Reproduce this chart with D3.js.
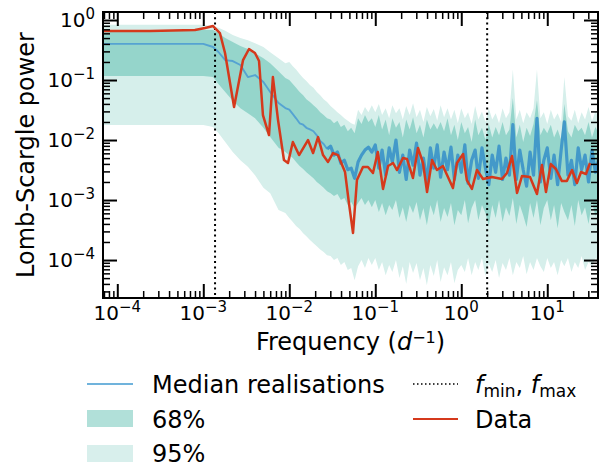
<!DOCTYPE html>
<html>
<head>
<meta charset="utf-8">
<script src="https://cdn.jsdelivr.net/npm/d3@7"></script>
<style>
  body { margin: 0; background: #fff; }
  text { font-family: "DejaVu Sans", sans-serif; fill: #000; }
</style>
</head>
<body>
<svg id="chart" width="611" height="467"></svg>
<script>
// frequency grid of the simulated periodograms (d^-1)
const modelFreq = [6.8e-5, 1.0e-3, 1.3e-3, 1.5e-3, 1.8e-3, 2.2e-3, 2.7e-3, 3.3e-3, 4.0e-3, 5.0e-3, 6.0e-3, 7.5e-3, 9.0e-3,
  0.0100, 0.0110, 0.0120, 0.0132, 0.0145, 0.0158, 0.0174, 0.0191, 0.0209, 0.0229, 0.0251, 0.0275, 0.0302, 0.0331, 0.0363, 0.0398, 0.0437, 0.0479, 0.0525, 0.0575, 0.0631, 0.0692, 0.0759, 0.0832, 0.0912,
  0.100, 0.110, 0.120, 0.132, 0.145, 0.158, 0.174, 0.191, 0.209, 0.229, 0.251, 0.275, 0.302, 0.331, 0.363, 0.398, 0.437, 0.479, 0.525, 0.575, 0.631, 0.692, 0.759, 0.832, 0.912,
  1.00, 1.10, 1.20, 1.32, 1.45, 1.58, 1.74, 1.91, 2.09, 2.29, 2.51, 2.75, 3.02, 3.31, 3.63, 3.98, 4.37, 4.79, 5.25, 5.75, 6.31, 6.92, 7.59, 8.32, 9.12,
  10.0, 11.0, 12.0, 13.2, 14.5, 15.8, 17.4, 19.1, 20.9, 22.9, 25.1, 27.5, 30.2, 33.1, 36.3, 39.8];

// median of the realisations
const median = [0.40, 0.40, 0.355, 0.293, 0.215, 0.207, 0.178, 0.112, 0.121, 0.0926, 0.0631, 0.0414, 0.0341,
  3.2e-2, 2.7e-2, 2.3e-2, 1.9e-2, 1.8e-2, 1.6e-2, 1.5e-2, 1.4e-2, 1.2e-2, 9.6e-3, 8.6e-3, 7.1e-3, 7.9e-3, 5.6e-3, 6.3e-3, 4.1e-3, 4.6e-3, 3.2e-3, 3.4e-3, 2.3e-3, 4.3e-3, 5.6e-3, 6.8e-3, 7.6e-3, 6.3e-3,
  8.3e-3, 3.4e-3, 6.8e-3, 2.6e-3, 7.4e-3, 4.3e-3, 1.0e-2, 2.9e-3, 5.6e-3, 2.2e-3, 6.8e-3, 3.8e-3, 8.9e-3, 2.6e-3, 5.0e-3, 2.0e-3, 7.4e-3, 3.4e-3, 8.3e-3, 2.4e-3, 6.3e-3, 3.2e-3, 7.6e-3, 2.2e-3, 5.6e-3,
  2.9e-3, 8.3e-3, 1.9e-3, 4.6e-3, 6.8e-3, 2.3e-3, 7.4e-3, 3.4e-3, 1.8e-3, 5.6e-3, 2.9e-3, 7.9e-3, 2.2e-3, 5.0e-3, 2.6e-3, 1.8e-2, 2.2e-3, 6.8e-3, 3.2e-3, 1.7e-3, 6.3e-3, 2.6e-3, 2.3e-2, 2.0e-3, 4.6e-3,
  7.4e-3, 2.3e-3, 5.6e-3, 1.8e-3, 6.8e-3, 2.0e-2, 2.6e-3, 4.6e-3, 1.8e-3, 7.4e-3, 3.2e-3, 5.6e-3, 2.0e-3, 6.8e-3, 2.9e-3, 5.0e-3];

// 68% interval
const hi68 = [0.68, 0.68, 0.68, 0.61, 0.50, 0.43, 0.37, 0.33, 0.28, 0.23, 0.19, 0.14, 0.108,
  1.0e-1, 8.6e-2, 7.4e-2, 6.3e-2, 5.6e-2, 4.8e-2, 4.3e-2, 3.8e-2, 3.4e-2, 2.9e-2, 2.6e-2, 2.3e-2, 2.2e-2, 1.9e-2, 2.1e-2, 1.65e-2, 1.8e-2, 1.4e-2, 1.6e-2, 1.3e-2, 2.3e-2, 1.85e-2, 2.6e-2, 2.0e-2, 2.3e-2,
  1.65e-2, 2.6e-2, 1.5e-2, 2.2e-2, 1.2e-2, 2.3e-2, 1.6e-2, 2.0e-2, 1.1e-2, 2.2e-2, 1.5e-2, 2.4e-2, 1.3e-2, 1.8e-2, 1.1e-2, 2.2e-2, 1.5e-2, 1.9e-2, 1.5e-2, 2.0e-2, 1.4e-2, 2.3e-2, 1.2e-2, 1.8e-2, 1.0e-2,
  2.0e-2, 1.3e-2, 1.65e-2, 9.3e-3, 2.2e-2, 1.2e-2, 1.6e-2, 1.0e-2, 1.85e-2, 1.1e-2, 1.65e-2, 1.2e-2, 2.0e-2, 1.2e-2, 1.5e-2, 5.0e-2, 1.1e-2, 1.8e-2, 9.3e-3, 1.6e-2, 1.17e-2, 1.85e-2, 4.6e-2, 1.2e-2, 1.6e-2,
  1.3e-2, 1.8e-2, 1.1e-2, 1.5e-2, 1.0e-2, 4.0e-2, 1.4e-2, 1.1e-2, 1.8e-2, 1.4e-2, 1.6e-2, 1.2e-2, 2.0e-2, 1.1e-2, 1.65e-2, 1.26e-2];
const lo68 = [0.117, 0.117, 0.112, 0.086, 0.063, 0.045, 0.034, 0.028, 0.023, 0.016, 0.0112, 0.0074, 0.0063,
  5.6e-3, 5.0e-3, 4.3e-3, 3.7e-3, 3.3e-3, 2.9e-3, 2.6e-3, 2.3e-3, 2.0e-3, 1.8e-3, 1.6e-3, 1.4e-3, 1.3e-3, 1.17e-3, 1.26e-3, 1.0e-3, 1.08e-3, 8.3e-4, 9.3e-4, 7.4e-4, 8.9e-4, 1.08e-3, 8.3e-4, 1.0e-3, 7.6e-4,
  1.0e-3, 6.3e-4, 8.9e-4, 5.6e-4, 8.3e-4, 6.8e-4, 1.0e-3, 5.0e-4, 7.6e-4, 4.3e-4, 8.3e-4, 6.1e-4, 9.3e-4, 4.6e-4, 7.4e-4, 3.8e-4, 8.3e-4, 5.6e-4, 1.0e-3, 4.3e-4, 7.4e-4, 5.2e-4, 8.9e-4, 3.8e-4, 6.8e-4,
  5.6e-4, 1.0e-3, 4.1e-4, 7.4e-4, 1.0e-3, 4.6e-4, 8.3e-4, 6.1e-4, 3.7e-4, 8.3e-4, 5.0e-4, 1.0e-3, 4.3e-4, 7.6e-4, 5.4e-4, 1.08e-3, 4.0e-4, 8.3e-4, 5.6e-4, 3.55e-4, 8.9e-4, 5.0e-4, 1.0e-3, 3.8e-4, 7.4e-4,
  1.0e-3, 4.6e-4, 8.3e-4, 3.4e-4, 8.9e-4, 6.3e-4, 4.6e-4, 8.3e-4, 3.7e-4, 1.0e-3, 5.6e-4, 7.6e-4, 4.0e-4, 9.3e-4, 5.4e-4, 7.4e-4];

// 95% interval
const hi95 = [0.83, 0.83, 0.79, 0.74, 0.66, 0.56, 0.50, 0.46, 0.41, 0.355, 0.29, 0.23, 0.19,
  2.0e-1, 1.7e-1, 1.5e-1, 1.26e-1, 1.08e-1, 9.6e-2, 8.3e-2, 7.4e-2, 6.3e-2, 5.6e-2, 4.8e-2, 4.3e-2, 3.7e-2, 3.3e-2, 2.9e-2, 2.6e-2, 2.3e-2, 2.1e-2, 1.9e-2, 1.8e-2, 3.2e-2, 2.6e-2, 3.55e-2, 2.9e-2, 3.8e-2,
  2.9e-2, 4.0e-2, 2.6e-2, 3.4e-2, 2.3e-2, 3.8e-2, 2.8e-2, 3.4e-2, 2.2e-2, 3.7e-2, 2.6e-2, 4.1e-2, 2.4e-2, 3.2e-2, 2.0e-2, 3.55e-2, 2.5e-2, 3.3e-2, 2.1e-2, 3.8e-2, 2.4e-2, 3.4e-2, 2.2e-2, 3.2e-2, 1.9e-2,
  3.4e-2, 2.3e-2, 2.9e-2, 1.85e-2, 3.7e-2, 2.2e-2, 3.0e-2, 2.0e-2, 3.4e-2, 2.2e-2, 2.8e-2, 1.9e-2, 3.4e-2, 2.3e-2, 2.9e-2, 1.5e-1, 2.2e-2, 3.2e-2, 1.9e-2, 2.9e-2, 2.3e-2, 3.4e-2, 1.5e-1, 2.3e-2, 2.9e-2,
  1.85e-2, 3.2e-2, 2.2e-2, 2.8e-2, 2.0e-2, 1.12e-1, 2.5e-2, 2.1e-2, 3.2e-2, 1.9e-2, 2.9e-2, 2.2e-2, 3.55e-2, 2.1e-2, 3.0e-2, 2.4e-2];
const lo95 = [0.0178, 0.0178, 0.0165, 0.0131, 0.0093, 0.0063, 0.0046, 0.0036, 0.0026, 0.0016, 0.0013, 6.8e-4, 6.1e-4,
  5.0e-4, 4.3e-4, 3.7e-4, 3.3e-4, 2.8e-4, 2.5e-4, 2.15e-4, 1.9e-4, 1.7e-4, 1.5e-4, 1.36e-4, 1.2e-4, 1.17e-4, 1.0e-4, 1.08e-4, 8.3e-5, 9.3e-5, 6.8e-5, 7.4e-5, 4.6e-5, 7.9e-5, 1.0e-4, 7.4e-5, 1.08e-4, 8.3e-5,
  1.08e-4, 6.8e-5, 9.3e-5, 5.6e-5, 8.3e-5, 6.3e-5, 1.0e-4, 5.0e-5, 7.9e-5, 4.0e-5, 9.3e-5, 6.1e-5, 8.9e-5, 4.6e-5, 7.4e-5, 3.8e-5, 8.3e-5, 5.4e-5, 1.0e-4, 4.3e-5, 7.6e-5, 5.6e-5, 9.3e-5, 4.1e-5, 6.8e-5,
  8.3e-5, 6.3e-5, 1.08e-4, 5.6e-5, 9.3e-5, 6.8e-5, 1.08e-4, 5.4e-5, 8.6e-5, 6.3e-5, 1.0e-4, 5.0e-5, 8.9e-5, 6.8e-5, 1.08e-4, 5.6e-5, 9.3e-5, 7.4e-5, 1.17e-4, 5.8e-5, 9.3e-5, 6.8e-5, 1.08e-4, 7.9e-5, 6.3e-5,
  1.08e-4, 7.4e-5, 9.3e-5, 5.6e-5, 1.0e-4, 7.9e-5, 1.08e-4, 6.3e-5, 9.3e-5, 7.4e-5, 1.17e-4, 6.8e-5, 9.3e-5, 7.9e-5, 1.08e-4, 8.6e-5];

// observed periodogram
const dataFreq = [7.0e-5, 2.4e-4, 8.0e-4, 1.05e-3, 1.30e-3, 1.56e-3, 1.79e-3, 2.28e-3, 2.90e-3, 3.40e-3, 3.99e-3, 4.45e-3, 4.94e-3, 5.81e-3, 6.45e-3, 7.40e-3, 8.67e-3, 9.66e-3,
  1.10e-2, 1.30e-2, 1.65e-2, 1.89e-2, 2.16e-2, 2.47e-2, 2.82e-2, 3.22e-2, 3.68e-2, 4.45e-2, 4.94e-2, 5.51e-2, 6.12e-2, 7.19e-2, 8.22e-2, 9.40e-2,
  0.107, 0.123, 0.141, 0.161, 0.179, 0.210, 0.234, 0.274, 0.314, 0.359, 0.400, 0.457, 0.521, 0.612, 0.700, 0.800, 0.891,
  1.05, 1.16, 1.33, 1.52, 1.79, 2.27, 2.97, 3.40, 3.89, 4.45, 5.08, 6.30, 7.59, 8.67, 9.66,
  11.0, 12.6, 14.8, 16.9, 19.4, 22.1, 24.7, 28.2, 31.4];
const dataPower = [0.656, 0.656, 0.681, 0.736, 0.794, 0.607, 0.282, 0.0355, 0.215, 0.329, 0.282, 0.207, 0.0261, 0.0121, 0.112, 0.0215, 0.00464, 0.00414,
  0.00926, 0.00562, 0.0100, 0.00607, 0.0112, 0.00562, 0.00430, 0.00607, 0.00562, 0.00293, 8.91e-4, 2.82e-4, 0.00215, 0.00355, 0.00355, 0.00282,
  0.00631, 0.00153, 0.00369, 0.00414, 0.00316, 0.00501, 0.00482, 0.00233, 0.00736, 0.00414, 0.00136, 0.00464, 0.00316, 0.00369, 0.00242, 0.00158, 0.00414,
  0.00584, 0.00215, 0.00153, 0.00316, 0.00224, 0.00242, 0.00224, 0.00282, 0.00541, 0.00131, 0.00251, 0.00242, 0.00126, 0.00383, 0.00136,
  0.00398, 0.00329, 0.00207, 0.00207, 0.00316, 0.00192, 0.00293, 0.00271, 0.00414];

// f_min, f_max
const limitFreqs = [1.37e-3, 2.0];

const xMajor = [1e-4, 1e-3, 1e-2, 1e-1, 1, 10];
const yMajor = [1e-4, 1e-3, 1e-2, 1e-1, 1];

const mLeft = 103, mRight = 598, mTop = 12, mBottom = 298;
const svg = d3.select("#chart");

const x = d3.scaleLog().domain([6.82e-5, 38.9]).range([mLeft, mRight]);
const y = d3.scaleLog().domain([2.33e-5, 1.36]).range([mBottom, mTop]);

svg.append("clipPath").attr("id", "clip").append("rect")
  .attr("x", mLeft).attr("y", mTop).attr("width", mRight - mLeft).attr("height", mBottom - mTop);
const plot = svg.append("g").attr("clip-path", "url(#clip)");

const idx = d3.range(modelFreq.length);
function band(lo, hi) {
  return d3.area()
    .x(i => x(modelFreq[i]))
    .y0(i => y(lo[i]))
    .y1(i => y(hi[i]))(idx);
}

plot.append("path").attr("d", band(lo95, hi95)).attr("fill", "#d6efeb");
plot.append("path").attr("d", band(lo68, hi68)).attr("fill", "#95d5cb");

// median: smooth part thin, noisy part drawn heavier
const medLine = d3.line().x(i => x(modelFreq[i])).y(i => y(median[i]));
plot.append("path")
  .attr("d", medLine(idx.filter(i => i <= 24)))
  .attr("fill", "none").attr("stroke", "#55a3d2").attr("stroke-width", 1.9)
  .attr("stroke-linejoin", "round");
plot.append("path")
  .attr("d", medLine(idx.filter(i => i >= 24)))
  .attr("fill", "none").attr("stroke", "#4399c9").attr("stroke-width", 3.2)
  .attr("stroke-linejoin", "round");

plot.selectAll(".lim").data(limitFreqs).join("line")
  .attr("x1", d => x(d)).attr("x2", d => x(d))
  .attr("y1", mTop).attr("y2", mBottom)
  .attr("stroke", "#000").attr("stroke-width", 2).attr("stroke-dasharray", "2,3.3");

plot.append("path")
  .attr("d", d3.line().x((d, i) => x(dataFreq[i])).y(d => y(d))(dataPower))
  .attr("fill", "none").attr("stroke", "#d5391c").attr("stroke-width", 2.5)
  .attr("stroke-linejoin", "round");

// minor tick positions
function minors(scale) {
  const [a, b] = scale.domain();
  const out = [];
  for (let e = -6; e <= 2; e++) {
    for (let k = 2; k <= 9; k++) {
      const v = k * Math.pow(10, e);
      if (v >= a && v <= b) out.push(v);
    }
  }
  return out;
}

function ticks(axis, scale, vals, len, w, tr) {
  const g = svg.append("g").attr("transform", tr)
    .call(axis(scale).tickValues(vals).tickSize(-len).tickSizeOuter(0).tickFormat(""));
  g.select(".domain").remove();
  g.selectAll("line").attr("stroke", "#000").attr("stroke-width", w);
}
ticks(d3.axisBottom, x, xMajor, 14, 2, `translate(0,${mBottom})`);
ticks(d3.axisBottom, x, minors(x), 7, 1.5, `translate(0,${mBottom})`);
ticks(d3.axisTop, x, xMajor, 14, 2, `translate(0,${mTop})`);
ticks(d3.axisTop, x, minors(x), 7, 1.5, `translate(0,${mTop})`);
ticks(d3.axisLeft, y, yMajor, 14, 2, `translate(${mLeft},0)`);
ticks(d3.axisLeft, y, minors(y), 7, 1.5, `translate(${mLeft},0)`);
ticks(d3.axisRight, y, yMajor, 14, 2, `translate(${mRight},0)`);
ticks(d3.axisRight, y, minors(y), 7, 1.5, `translate(${mRight},0)`);

svg.append("rect").attr("x", mLeft).attr("y", mTop)
  .attr("width", mRight - mLeft).attr("height", mBottom - mTop)
  .attr("fill", "none").attr("stroke", "#000").attr("stroke-width", 2);

const expText = v => { const e = Math.round(Math.log10(v)); return e < 0 ? "\u2212" + (-e) : String(e); };

xMajor.forEach(v => {
  const t = svg.append("text").attr("x", x(v)).attr("y", 320)
    .attr("text-anchor", "middle").style("font-size", "20px");
  t.append("tspan").text("10");
  t.append("tspan").attr("dy", -8).style("font-size", "15px").text(expText(v));
});
yMajor.forEach(v => {
  const t = svg.append("text").attr("x", 95).attr("y", y(v) + 7)
    .attr("text-anchor", "end").style("font-size", "20px");
  t.append("tspan").text("10");
  t.append("tspan").attr("dy", -8).style("font-size", "15px").text(expText(v));
});

// axis titles
const xl = svg.append("text").attr("x", (mLeft + mRight) / 2).attr("y", 350)
  .attr("text-anchor", "middle").style("font-size", "24px");
xl.append("tspan").text("Frequency (");
xl.append("tspan").style("font-style", "italic").text("d");
xl.append("tspan").attr("dy", -7).style("font-size", "16px").text("\u22121");
xl.append("tspan").attr("dy", 7).text(")");

svg.append("text")
  .attr("transform", `translate(34,${(mTop + mBottom) / 2}) rotate(-90)`)
  .attr("text-anchor", "middle").style("font-size", "24px")
  .text("Lomb-Scargle power");

// legend
const lg = svg.append("g").style("font-size", "24px");
lg.append("line").attr("x1", 87).attr("x2", 133).attr("y1", 384).attr("y2", 384)
  .attr("stroke", "#70b3dc").attr("stroke-width", 2);
lg.append("text").attr("x", 152).attr("y", 393).text("Median realisations");
lg.append("rect").attr("x", 87).attr("y", 410).attr("width", 46).attr("height", 17).attr("fill", "#b1e0d9");
lg.append("text").attr("x", 152).attr("y", 428).text("68%");
lg.append("rect").attr("x", 87).attr("y", 445).attr("width", 46).attr("height", 17).attr("fill", "#d8efec");
lg.append("text").attr("x", 152).attr("y", 462).text("95%");

lg.append("line").attr("x1", 413).attr("x2", 458).attr("y1", 384).attr("y2", 384)
  .attr("stroke", "#000").attr("stroke-width", 1.5).attr("stroke-dasharray", "1.5,2.5");
const fl = lg.append("text").attr("x", 475).attr("y", 393);
fl.append("tspan").style("font-style", "italic").text("f");
fl.append("tspan").attr("dy", 4).style("font-size", "17px").text("min");
fl.append("tspan").attr("dy", -4).text(", ");
fl.append("tspan").style("font-style", "italic").text("f");
fl.append("tspan").attr("dy", 4).style("font-size", "17px").text("max");
lg.append("line").attr("x1", 413).attr("x2", 458).attr("y1", 419).attr("y2", 419)
  .attr("stroke", "#d5391c").attr("stroke-width", 2);
lg.append("text").attr("x", 475).attr("y", 428).text("Data");
</script>
</body>
</html>
